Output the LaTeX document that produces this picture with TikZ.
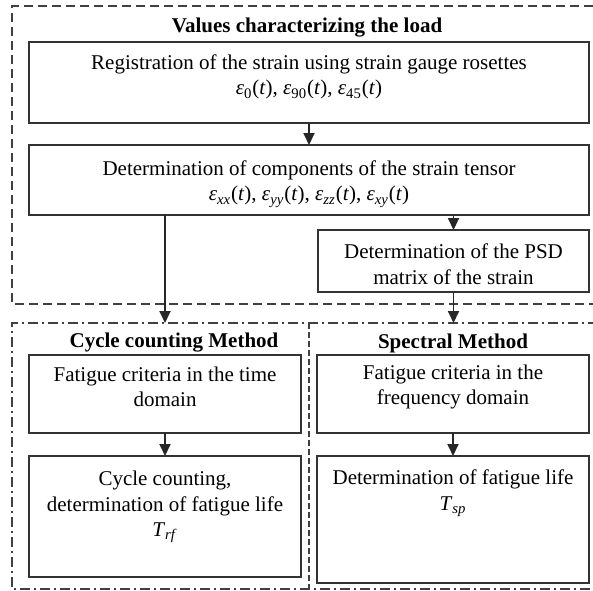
\documentclass[tikz,border=0pt]{standalone}
\usepackage{fontspec}
\setmainfont{Liberation Serif}
\usetikzlibrary{arrows.meta}
\newcommand{\epst}[1]{\textit{ε}\textsubscript{#1}(\textit{t})}
\begin{document}
\begin{tikzpicture}[x=0.5pt,y=-0.5pt,line width=0.9pt,
        node font=\fontsize{10.5pt}{12.8pt}\selectfont,
        box/.style={draw=black!80,rectangle,inner sep=0pt,outer sep=0pt},
        txt/.style={align=center,inner sep=0pt},
        head/.style={font=\bfseries,inner sep=0pt},
        flow/.style={draw=black!85,-{Triangle[length=6pt,width=5.5pt]}},
        loadframe/.style={draw=black!75,dash pattern=on 4.5pt off 2.5pt},
        methodframe/.style={draw=black!75,dash pattern=on 5pt off 2pt on 1pt off 2pt},
        divider/.style={draw=black!75,dash pattern=on 3pt off 1.5pt}]
            \useasboundingbox (0,0) rectangle (593,590);
            % frames
            \draw [loadframe] (598,304) -- (12,304) -- (12,6) -- (598,6);
            \draw [methodframe] (598,323) -- (12,323) -- (12,589) -- (598,589);
            \draw [divider] (309,323) -- (309,589);
            \node [head] (loadtitle) at (307,28) {Values characterizing the load};
            \node [head] (cycletitle) at (174,343) {Cycle counting Method};
            \node [head] (spectitle) at (453,343) {Spectral Method};
            % boxes
            \node [box,minimum width=280pt,minimum height=40.5pt] (reg) at (309,82.5) {};
            \node [box,minimum width=280pt,minimum height=35pt] (comp) at (309,180) {};
            \node [box,minimum width=135.5pt,minimum height=31pt] (psd) at (453.5,261) {};
            \node [box,minimum width=136pt,minimum height=39pt] (time) at (165,394) {};
            \node [box,minimum width=136pt,minimum height=60.5pt] (cycle) at (165,516.5) {};
            \node [box,minimum width=136pt,minimum height=39pt] (freq) at (453,394) {};
            \node [box,minimum width=136pt,minimum height=63.5pt] (life) at (453,519.5) {};
            % texts
            \node [txt] (regtxt) at (309,77) {Registration of the strain using strain gauge rosettes\\ \epst{0}, \epst{90}, \epst{45}};
            \node [txt] (comptxt) at (309,184) {Determination of components of the strain tensor\\ \epst{\textit{xx}}, \epst{\textit{yy}}, \epst{\textit{zz}}, \epst{\textit{xy}}};
            \node [txt] (psdtxt) at (453.5,264) {Determination of the PSD\\ matrix of the strain};
            \node [txt] (timetxt) at (165,387) {Fatigue criteria in the time\\ domain};
            \node [txt] (cycletxt) at (165,507) {Cycle counting,\\ determination of fatigue life\\ \textit{T}\textsubscript{\textit{rf}}};
            \node [txt] (freqtxt) at (453,387) {Fatigue criteria in the\\ frequency domain};
            \node [txt] (lifetxt) at (453,493) {Determination of fatigue life\\ \textit{T}\textsubscript{\textit{sp}}};
            % arrows
            \coordinate (timein) at (165,323);
            \coordinate (specin) at (453.5,323);
            \draw [flow] (reg) -- (comp);
            \draw [flow] (comp.south -| psd.north) -- (psd.north);
            \draw [flow] (comp.south -| timein) -- (timein);
            \draw [flow] (psd) -- (specin);
            \draw [flow] (time) -- (cycle);
            \draw [flow] (freq) -- (life);
\end{tikzpicture}
\end{document}
